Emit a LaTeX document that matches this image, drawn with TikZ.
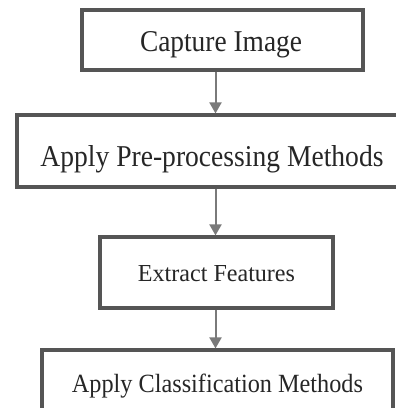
\documentclass[tikz,border=0pt]{standalone}
\usepackage{fontspec}
\setmainfont{Liberation Serif}
\usetikzlibrary{arrows.meta}
\definecolor{boxline}{HTML}{555555}
\definecolor{arrowline}{HTML}{7A7A7A}
\tikzset{
  stepbox/.style={draw=boxline, line width=3.2pt, fill=white},
  label/.style={anchor=base, inner sep=0pt, text=black!85},
  flow/.style={draw=arrowline, line width=2pt, -{Triangle[length=11pt,width=12pt]}}
}
\begin{document}
\begin{tikzpicture}[x=1pt,y=-1pt]
\useasboundingbox (0,0) rectangle (396,408);
\clip (0,0) rectangle (396,408);
% boxes
\draw[stepbox] (82,10) rectangle (363,70);
\draw[stepbox] (17,115) rectangle (400,187);
\draw[stepbox] (100,237) rectangle (333,308);
\draw[stepbox] (42,350) rectangle (393,420);
% box anchors
\coordinate (b1) at (215.5,71.6);
\coordinate (t2) at (215.5,113.4);
\coordinate (b2) at (215.5,188.6);
\coordinate (t3) at (215.5,235.4);
\coordinate (b3) at (215.5,309.6);
\coordinate (t4) at (215.5,348.4);
% labels
\node[label] (n1) at (221,51) {\resizebox{162pt}{20pt}{Capture Image}};
\node[label] (n2) at (212,166) {\resizebox{343pt}{21pt}{Apply Pre-processing Methods}};
\node[label] (n3) at (216.5,281) {\resizebox{157pt}{16pt}{Extract Features}};
\node[label] (n4) at (217.5,392) {\resizebox{291pt}{18.5pt}{Apply Classification Methods}};
% arrows
\draw[flow] (b1) -- (t2);
\draw[flow] (b2) -- (t3);
\draw[flow] (b3) -- (t4);
\end{tikzpicture}
\end{document}
